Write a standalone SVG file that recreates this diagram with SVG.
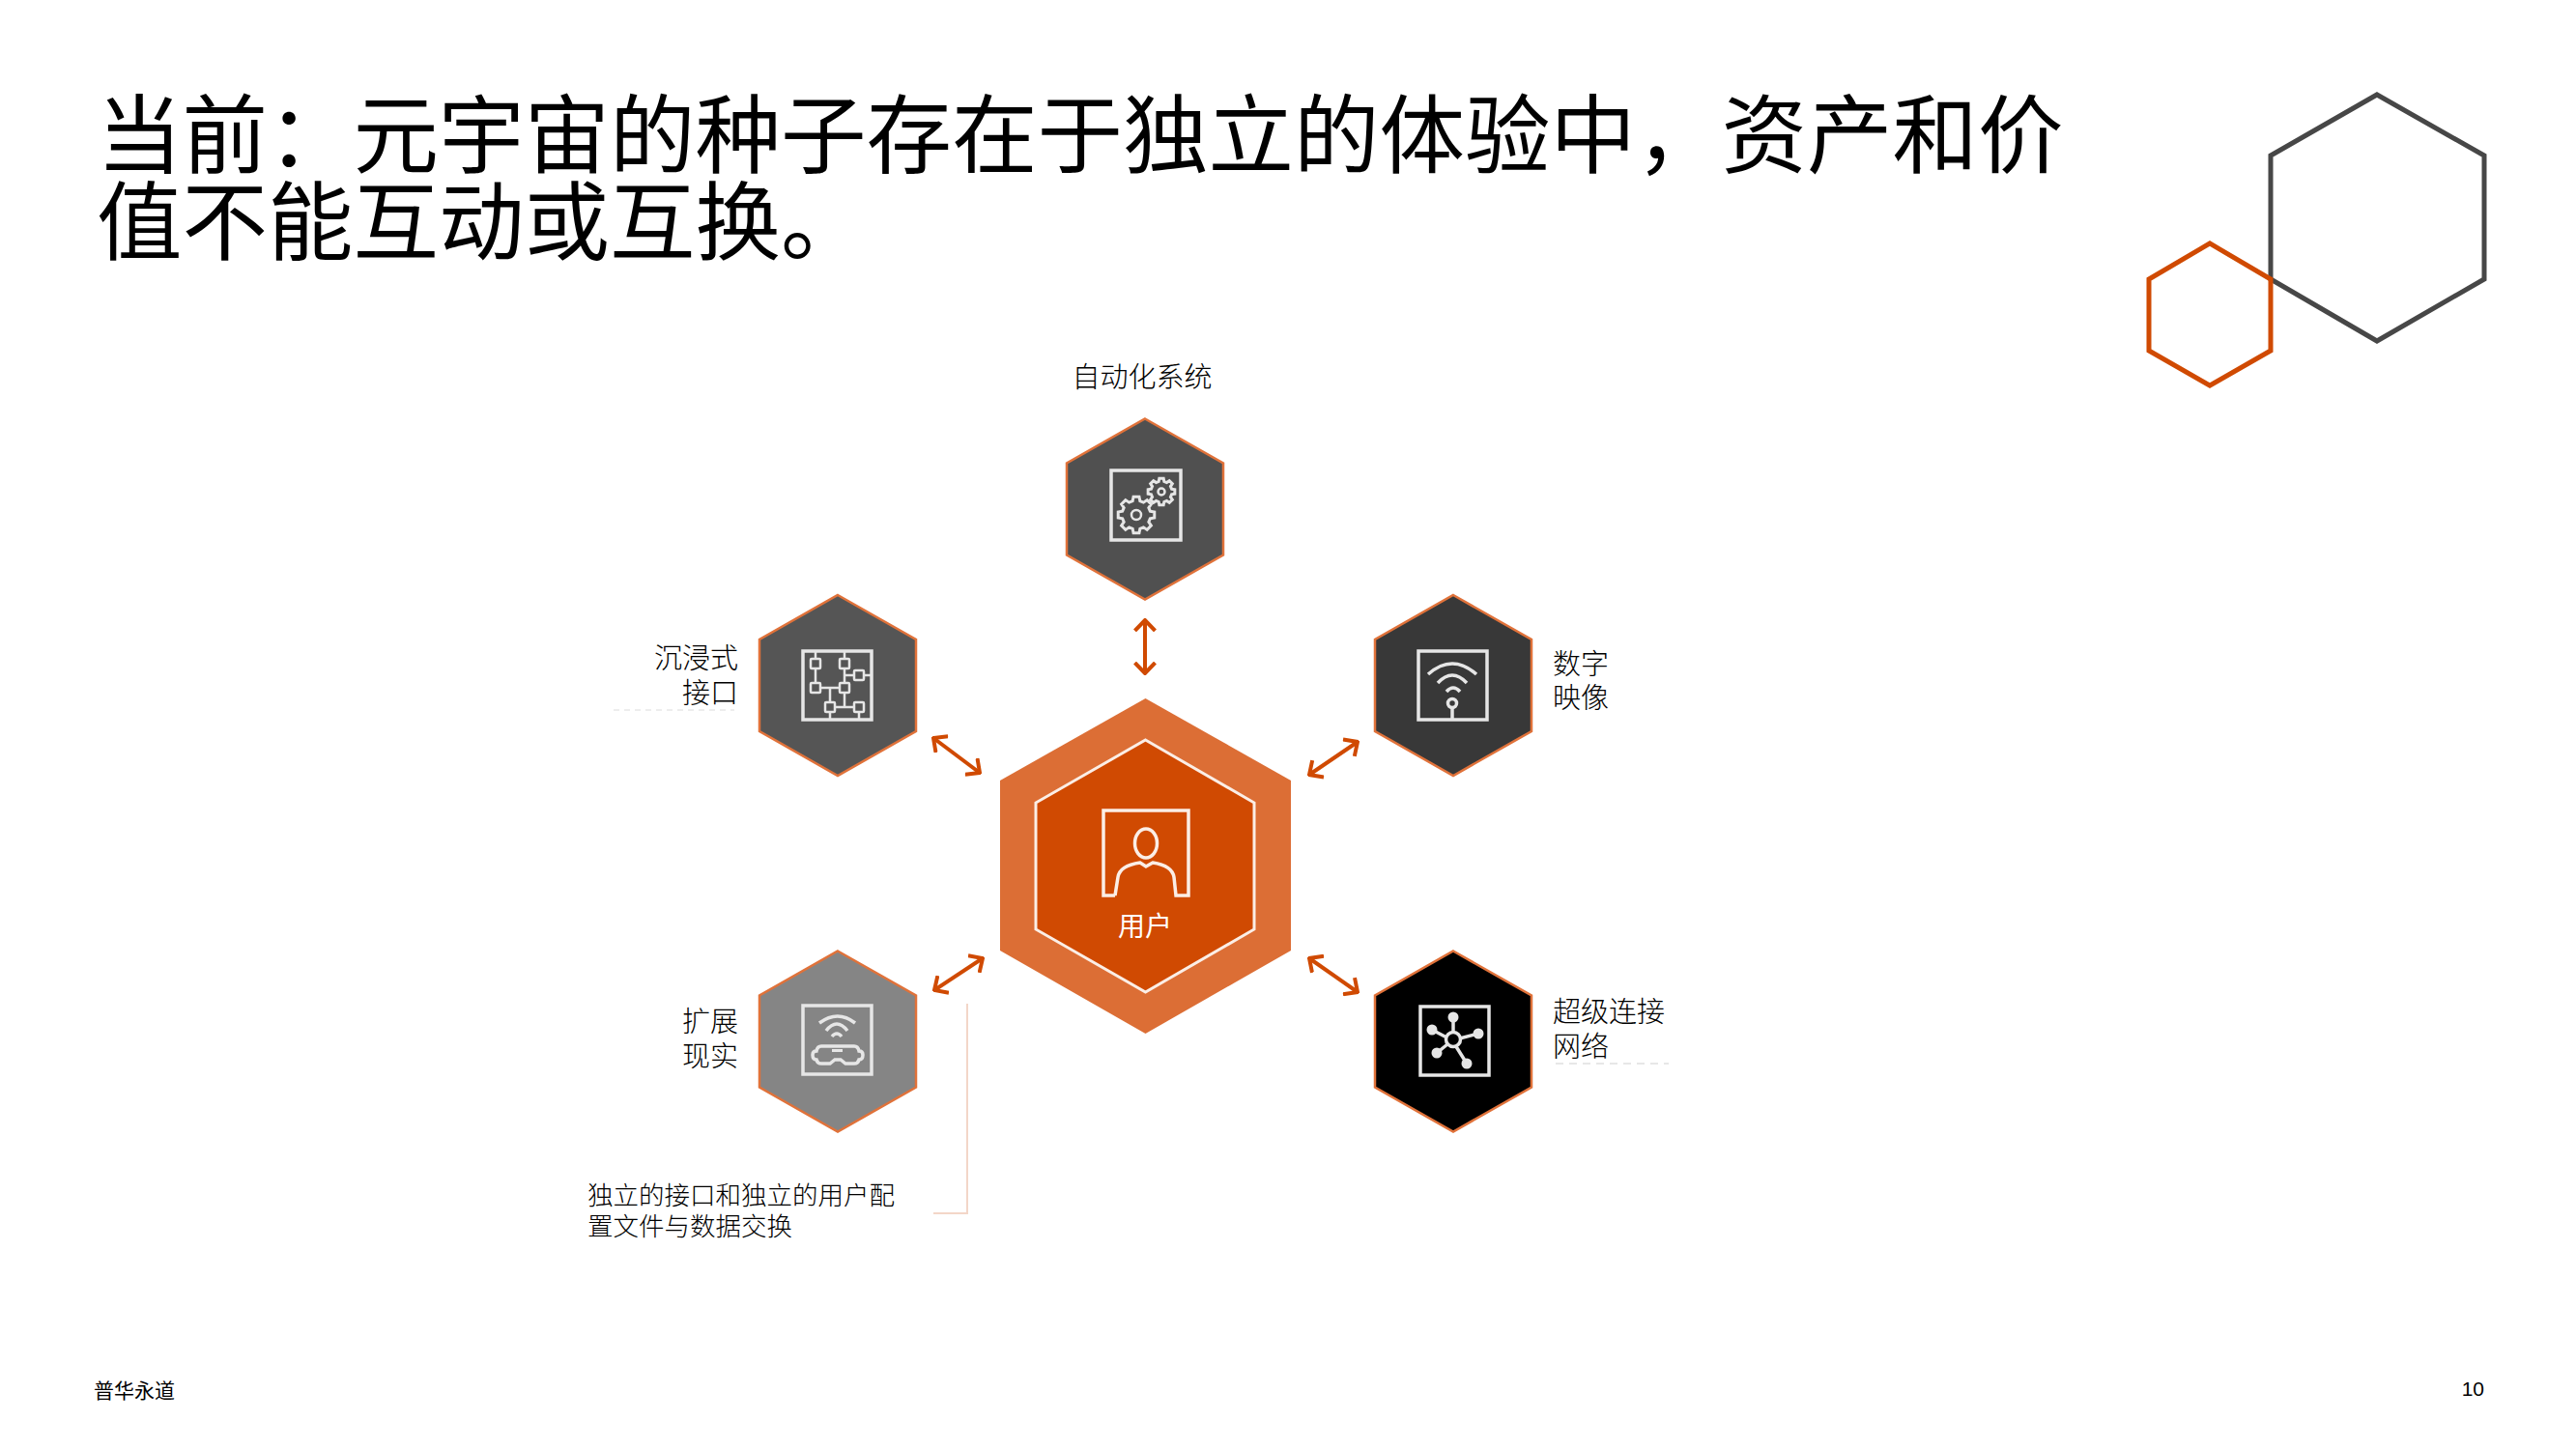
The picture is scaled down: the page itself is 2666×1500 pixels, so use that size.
<svg xmlns="http://www.w3.org/2000/svg" width="2666" height="1500" viewBox="0 0 2666 1500">
<defs>
<marker id="a" viewBox="-12 -12 14 24" refX="0" refY="0" markerWidth="14" markerHeight="24" markerUnits="userSpaceOnUse" orient="auto-start-reverse"><path d="M-11-10.500L0 0L-11 10.500" fill="none" stroke="#d04a02" stroke-width="4"/></marker>
<polygon id="hx" points="0,-93.500 81,-47.500 81,47.500 0,93.500 -81,47.500 -81,-47.500"/>
<polygon id="gear" points=".753,-.202 .988,-.156 .988,.156 .753,.202 .675,.390 .809,.588 .588,.809 .390,.675 .202,.753 .156,.988 -.156,.988 -.202,.753 -.390,.675 -.588,.809 -.809,.588 -.675,.390 -.753,.202 -.988,.156 -.988,-.156 -.753,-.202 -.675,-.390 -.809,-.588 -.588,-.809 -.390,-.675 -.202,-.753 -.156,-.988 .156,-.988 .202,-.753 .390,-.675 .588,-.809 .809,-.588 .675,-.390" fill="none" stroke="#e6e6e6" stroke-width="3" vector-effect="non-scaling-stroke" style="vector-effect:non-scaling-stroke"/>
</defs>
<style>
text{font-family:"Noto Sans CJK SC","Liberation Sans",sans-serif;fill:#000}
.t{font-size:88.500px;font-weight:400}
.l{font-size:29px;font-weight:300}
.n{font-size:26.500px;font-weight:300}
.e{text-anchor:end}
.f{font-size:21px}
.h{stroke:#e0723a;stroke-width:2.500}
.i{fill:none;stroke:#e6e6e6;stroke-width:3.500}
.s{fill:none;stroke:#e6e6e6;stroke-width:2.500}
.w{fill:none;stroke:#fbeee6;stroke-width:3.500}
.ar{fill:none;stroke:#d04a02;stroke-width:4;marker-start:url(#a);marker-end:url(#a)}
</style>
<rect width="2666" height="1500" fill="#fff"/>
<g id="title"><text class="t" x="100" y="172">当前：元宇宙的种子存在于独立的体验中，资产和价</text><text class="t" x="100" y="262">值不能互动或互换。</text></g>
<g id="deco" fill="none" stroke-width="5">
<polygon stroke="#474747" points="2460,98 2571,161 2571,289 2460,353 2350,289 2350,161"/>
<polygon stroke="#d04a02" points="2287,252 2350,289 2350,363 2287,399 2224,363 2224,289"/>
</g>
<g id="connectors">
<line class="ar" x1="1185" y1="642" x2="1185" y2="697"/>
<line class="ar" x1="966" y1="764" x2="1014" y2="800"/>
<line class="ar" x1="1405" y1="768" x2="1355" y2="802"/>
<line class="ar" x1="967" y1="1025" x2="1017" y2="992"/>
<line class="ar" x1="1355" y1="992" x2="1405" y2="1027"/>
<path d="M1001 1039V1256H966" fill="none" stroke="#f3d6c8" stroke-width="2"/>
</g>
<g id="node-top"><use href="#hx" x="1185" y="527" fill="#505050" class="h"/><rect class="i" x="1150" y="487" width="72" height="72"/><use href="#gear" transform="translate(1176 533) scale(19)"/><circle class="s" cx="1176" cy="533" r="5"/><use href="#gear" transform="translate(1202 509) scale(14)"/><circle class="s" cx="1202" cy="509" r="3.500"/><text class="l" x="1182" y="401" text-anchor="middle">自动化系统</text></g>
<g id="node-left-top"><use href="#hx" x="867" y="709.500" fill="#555" class="h"/><rect class="i" x="831" y="674" width="71" height="71"/><path class="s" d="M844 674V712M874 674V732M844 712H874M859 712V745M859 732H889V745M874 699H902"/><g fill="#555" stroke="#e6e6e6" stroke-width="2.500"><rect x="839" y="682" width="10" height="10" rx="1"/><rect x="869" y="682" width="10" height="10" rx="1"/><rect x="884" y="694" width="10" height="10" rx="1"/><rect x="839" y="707" width="10" height="10" rx="1"/><rect x="869" y="707" width="10" height="10" rx="1"/><rect x="854" y="727" width="10" height="10" rx="1"/><rect x="884" y="727" width="10" height="10" rx="1"/></g><text class="l e" x="764" y="692">沉浸式</text><text class="l e" x="764" y="728">接口</text><line x1="635" y1="735" x2="760" y2="735" stroke="#e8e8e8" stroke-width="1.500" stroke-dasharray="6 5"/></g>
<g id="node-right-top"><use href="#hx" x="1504" y="709.500" fill="#383838" class="h"/><rect class="i" x="1468" y="674" width="71" height="71"/><path class="i" d="M1478 698Q1503 676 1528 698M1488 707Q1503 691 1518 707M1497 716Q1504 708 1511 716M1503 733V745"/><circle class="i" cx="1503" cy="728" r="4.500"/><text class="l" x="1607" y="698">数字</text><text class="l" x="1607" y="733">映像</text></g>
<g id="node-left-bottom"><use href="#hx" x="867" y="1078" fill="#858585" class="h"/><rect class="i" x="831" y="1041" width="71" height="71"/><path class="i" d="M848 1059Q867 1045 885 1059M855 1067Q866 1053 877 1067M861 1073Q866 1067 871 1073"/><path class="i" d="M850 1083H884Q888 1083 889 1088Q893 1088 893 1092Q893 1097 889 1097Q888 1101 884 1101H875L870 1097H864L859 1101H850Q846 1101 845 1097Q841 1097 841 1092Q841 1088 845 1088Q846 1083 850 1083Z"/><rect x="861" y="1086" width="11" height="3" fill="#e6e6e6"/><text class="l e" x="764" y="1068">扩展</text><text class="l e" x="764" y="1104">现实</text></g>
<g id="node-right-bottom"><use href="#hx" x="1504" y="1078" fill="#000" class="h"/><rect class="i" x="1470" y="1042" width="71" height="71"/><path class="i" d="M1504 1076V1054M1503 1077L1482 1066M1503 1077L1530 1070M1503 1077L1487 1090M1503 1077L1518 1101"/><g fill="#e6e6e6"><circle cx="1504" cy="1053" r="5.500"/><circle cx="1482" cy="1066" r="5.500"/><circle cx="1530" cy="1070" r="5.500"/><circle cx="1487" cy="1090" r="5.500"/><circle cx="1518" cy="1101" r="5.500"/></g><circle cx="1504" cy="1076" r="7.500" fill="#000" stroke="#e6e6e6" stroke-width="3.500"/><text class="l" x="1607" y="1058">超级连接</text><text class="l" x="1607" y="1094">网络</text><line x1="1610" y1="1101" x2="1727" y2="1101" stroke="#e0e0e0" stroke-width="1.500" stroke-dasharray="8 6"/></g>
<g id="node-center"><polygon fill="#dc6e35" points="1185.500,723 1336,808 1336,984 1185.500,1070 1035,984 1035,808"/><polygon fill="#d04a02" stroke="#fbeee6" stroke-width="3" points="1185.500,766 1298,831 1298,962 1185.500,1027 1072,962 1072,831"/><path class="w" d="M1154 927H1142V839H1230V927H1217L1215 908Q1213 896 1193 893L1186 897L1180 893Q1159 896 1157 908L1154 927"/><ellipse class="w" cx="1186" cy="873" rx="11.500" ry="15"/><text x="1185" y="969" text-anchor="middle" font-size="28" style="fill:#fff">用户</text></g>
<g id="note"><text class="n" x="608" y="1247">独立的接口和独立的用户配</text><text class="n" x="608" y="1279">置文件与数据交换</text></g>
<g id="footer"><text class="f" x="97" y="1447">普华永道</text><text class="f" x="2571" y="1445" text-anchor="end" style="font-family:'Liberation Sans',sans-serif">10</text></g>
</svg>
